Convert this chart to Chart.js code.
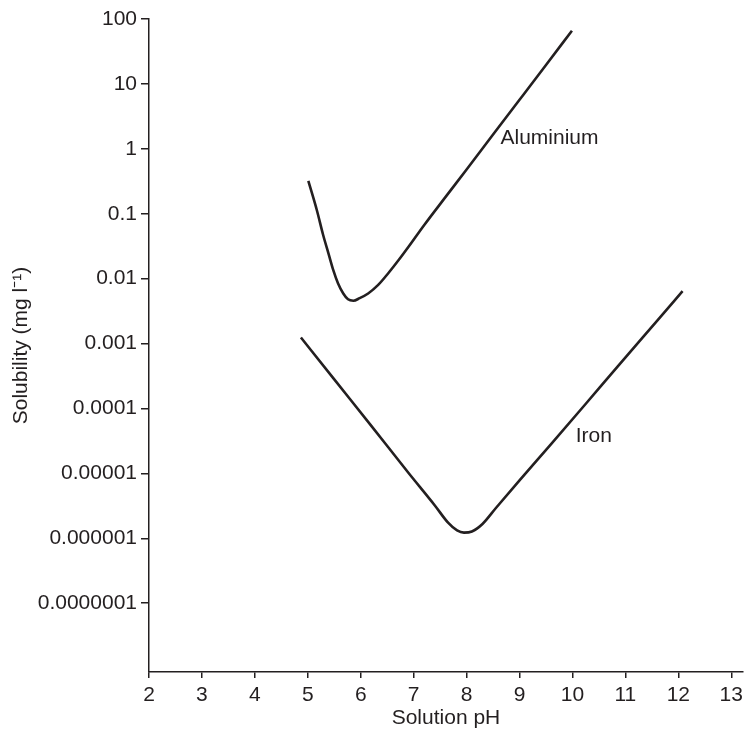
<!DOCTYPE html>
<html>
<head>
<meta charset="utf-8">
<script src="https://cdn.jsdelivr.net/npm/chart.js@4/dist/chart.umd.min.js"></script>
<style>
  html, body { margin: 0; padding: 0; background: #ffffff; }
  #wrap { width: 748px; height: 740px; }
</style>
</head>
<body>
<div id="wrap"><canvas id="c" width="748" height="740"></canvas></div>
<script>
// ---- data ----
const aluminiumPH = [5.01, 5.17, 5.29, 5.39, 5.48, 5.57, 5.67, 5.76, 5.86, 5.98, 6.14, 6.33, 6.52, 6.72, 6.91, 7.2, 7.6, 8.0, 8.5, 9.0, 9.5, 9.99];
const aluminiumSol = [0.32, 0.114, 0.047, 0.0245, 0.0136, 0.0085, 0.0059, 0.0048, 0.00457, 0.0050, 0.0059, 0.0080, 0.0121, 0.0195, 0.0315, 0.067, 0.18, 0.48, 1.66, 5.7, 19.6, 66];

const ironPH = [4.87, 5.5, 6.2, 6.9, 7.4, 7.65, 7.82, 7.95, 8.1, 8.3, 8.55, 9.0, 9.6, 10.24, 10.86, 11.61, 12.08];
const ironSol = [0.00124, 2.8e-4, 5.4e-5, 1.02e-5, 3.2e-6, 1.74e-6, 1.32e-6, 1.22e-6, 1.27e-6, 1.66e-6, 2.9e-6, 7.8e-6, 2.85e-5, 1.15e-4, 4.5e-4, 0.0023, 0.0064];

const xTicks = [2, 3, 4, 5, 6, 7, 8, 9, 10, 11, 12, 13];
const yTickValues = [100, 10, 1, 0.1, 0.01, 0.001, 0.0001, 0.00001, 0.000001, 0.0000001];
const yTickLabels = ['100', '10', '1', '0.1', '0.01', '0.001', '0.0001', '0.00001', '0.000001', '0.0000001'];

const curveNames = ['Aluminium', 'Iron'];
const nameAtPH = [8.64, 10.06];
const nameAtSol = [1.47, 3.76e-5];

// ---- chart ----
const INK = '#231f20';
const FONT = '"Liberation Sans", Arial, Helvetica, sans-serif';
const FS = 21;

function toPoints(xs, ys) { return xs.map((x, i) => ({ x: x, y: ys[i] })); }

const curveLabels = {
  id: 'curveLabels',
  afterDatasetsDraw(chart) {
    const ctx = chart.ctx;
    const xs = chart.scales.x, ys = chart.scales.y;
    ctx.save();
    ctx.fillStyle = INK;
    ctx.font = FS + 'px ' + FONT;
    ctx.textAlign = 'left';
    ctx.textBaseline = 'middle';
    curveNames.forEach((t, i) => {
      ctx.fillText(t, xs.getPixelForValue(nameAtPH[i]), ys.getPixelForValue(nameAtSol[i]));
    });
    ctx.restore();
  }
};

Chart.defaults.font.family = FONT;
Chart.defaults.color = INK;

new Chart(document.getElementById('c'), {
  type: 'line',
  data: {
    datasets: [
      { label: curveNames[0], data: toPoints(aluminiumPH, aluminiumSol), borderColor: INK, borderWidth: 2.6, pointRadius: 0, cubicInterpolationMode: 'monotone', fill: false },
      { label: curveNames[1], data: toPoints(ironPH, ironSol), borderColor: INK, borderWidth: 2.6, pointRadius: 0, cubicInterpolationMode: 'monotone', fill: false }
    ]
  },
  options: {
    responsive: false,
    animation: false,
    layout: { padding: { top: 19, right: 3, bottom: 0, left: 0 } },
    plugins: { legend: { display: false }, tooltip: { enabled: false }, title: { display: false } },
    scales: {
      x: {
        type: 'linear',
        min: 2,
        max: 13.22,
        afterBuildTicks: s => { s.ticks = xTicks.map(v => ({ value: v })); },
        afterFit: s => { s.height = 68; },
        ticks: { font: { size: FS }, color: INK, padding: 5, maxRotation: 0, autoSkip: false },
        grid: { drawOnChartArea: false, drawTicks: true, tickLength: 6, color: INK, lineWidth: 1.5 },
        border: { display: true, color: INK, width: 1.5 },
        title: { display: true, text: 'Solution pH', font: { size: FS }, color: INK, padding: { top: 0, bottom: 9 } }
      },
      y: {
        type: 'logarithmic',
        min: 8.7e-9,
        max: 100,
        afterBuildTicks: s => { s.ticks = yTickValues.map(v => ({ value: v })); },
        afterFit: s => { s.width = 149; },
        ticks: {
          font: { size: FS }, color: INK, padding: 4, autoSkip: false,
          callback: (v) => { const i = yTickValues.findIndex(t => Math.abs(t - v) / t < 1e-6); return i >= 0 ? yTickLabels[i] : ''; }
        },
        grid: { drawOnChartArea: false, drawTicks: true, tickLength: 8, color: INK, lineWidth: 1.5 },
        border: { display: true, color: INK, width: 1.5 },
        title: { display: true, text: 'Solubility (mg l\u207B\u00B9)', font: { size: FS }, color: INK, padding: { top: 9, bottom: 0 } }
      }
    }
  },
  plugins: [curveLabels]
});
</script>
</body>
</html>
